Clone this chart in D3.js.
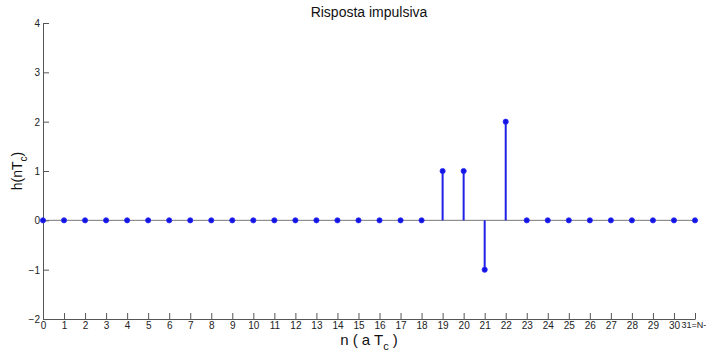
<!DOCTYPE html>
<html>
<head>
<meta charset="utf-8">
<script src="https://cdn.jsdelivr.net/npm/d3@7"></script>
<style>
  html, body { margin: 0; padding: 0; background: #fff; }
  svg { display: block; }
  text { font-family: "Liberation Sans", Arial, sans-serif; }
</style>
</head>
<body>
<svg id="chart" width="706" height="356"></svg>
<script>
// Impulse response samples h(nTc), n = 0..31
const samples = [0,1,2,3,4,5,6,7,8,9,10,11,12,13,14,15,16,17,18,19,20,21,22,23,24,25,26,27,28,29,30,31];
const values  = [0,0,0,0,0,0,0,0,0,0,0,0,0,0,0,0,0,0,0,1,1,-1,2,0,0,0,0,0,0,0,0,0];
const xTickLabels = ["0","1","2","3","4","5","6","7","8","9","10","11","12","13","14","15",
  "16","17","18","19","20","21","22","23","24","25","26","27","28","29","30","31=N-"];
const yTicks = [-2,-1,0,1,2,3,4];

const svg = d3.select("#chart");
const margin = {left: 43, right: 11, top: 23, bottom: 37};
const W = 706, H = 356;

const x = d3.scaleLinear().domain([0, 31]).range([margin.left, W - margin.right]);
const y = d3.scaleLinear().domain([-2, 4]).range([H - margin.bottom, margin.top]);

const axisColor = "#555";

// Axes (ticks pointing into the plot)
const gx = svg.append("g")
  .attr("transform", `translate(0,${y(-2)})`)
  .call(d3.axisBottom(x).tickValues(samples).tickFormat((d, i) => xTickLabels[i])
    .tickSizeInner(-6).tickSizeOuter(0).tickPadding(3));
const gy = svg.append("g")
  .attr("transform", `translate(${x(0)},0)`)
  .call(d3.axisLeft(y).tickValues(yTicks).tickFormat(d3.format("d"))
    .tickSizeInner(-6).tickSizeOuter(0).tickPadding(3));

[gx, gy].forEach(g => {
  g.select(".domain").attr("stroke", axisColor).attr("stroke-width", 1);
  g.selectAll(".tick line").attr("stroke", axisColor);
  g.selectAll(".tick text").attr("fill", "#222").style("font-size", "10px")
    .style("font-family", "'Liberation Sans', Arial, sans-serif");
});
gy.selectAll(".tick text").attr("dy", "0.35em");
// last x label starts just after "30" and fits against the right edge
gx.selectAll(".tick text").filter(d => d === 31)
  .attr("text-anchor", "start").attr("dx", -14).style("font-size", "9px");

// Baseline
svg.append("line")
  .attr("x1", x(0)).attr("x2", x(31))
  .attr("y1", y(0)).attr("y2", y(0))
  .attr("stroke", "#777").attr("stroke-width", 1);

const data = samples.map((n, i) => ({n, v: values[i]}));

// Stems
svg.append("g").selectAll("line")
  .data(data.filter(d => d.v !== 0))
  .join("line")
  .attr("x1", d => x(d.n)).attr("x2", d => x(d.n))
  .attr("y1", y(0)).attr("y2", d => y(d.v))
  .attr("stroke", "#1f1fe6").attr("stroke-width", 2);

// Markers
svg.append("g").selectAll("circle")
  .data(data)
  .join("circle")
  .attr("cx", d => x(d.n)).attr("cy", d => y(d.v))
  .attr("r", 2.6)
  .attr("fill", "#1414e0").attr("stroke", "#2a2aff").attr("stroke-width", 0.8);

// Title
svg.append("text")
  .attr("x", 369).attr("y", 17)
  .attr("text-anchor", "middle")
  .style("font-size", "14px").attr("fill", "#111")
  .text("Risposta impulsiva");

// X label: n ( a T_c )
const xl = svg.append("text")
  .attr("x", 369).attr("y", 345)
  .attr("text-anchor", "middle")
  .style("font-size", "15px").attr("fill", "#111");
xl.append("tspan").text("n ( a T");
xl.append("tspan").attr("dy", 5).style("font-size", "11px").text("c");
xl.append("tspan").attr("dy", -5).text(" )");

// Y label: h(nT_c)
const yl = svg.append("text")
  .attr("transform", `translate(22,${y(1)}) rotate(-90)`)
  .attr("text-anchor", "middle")
  .style("font-size", "14px").attr("fill", "#111");
yl.append("tspan").text("h(nT");
yl.append("tspan").attr("dy", 5).style("font-size", "10px").text("c");
yl.append("tspan").attr("dy", -5).text(")");
</script>
</body>
</html>
